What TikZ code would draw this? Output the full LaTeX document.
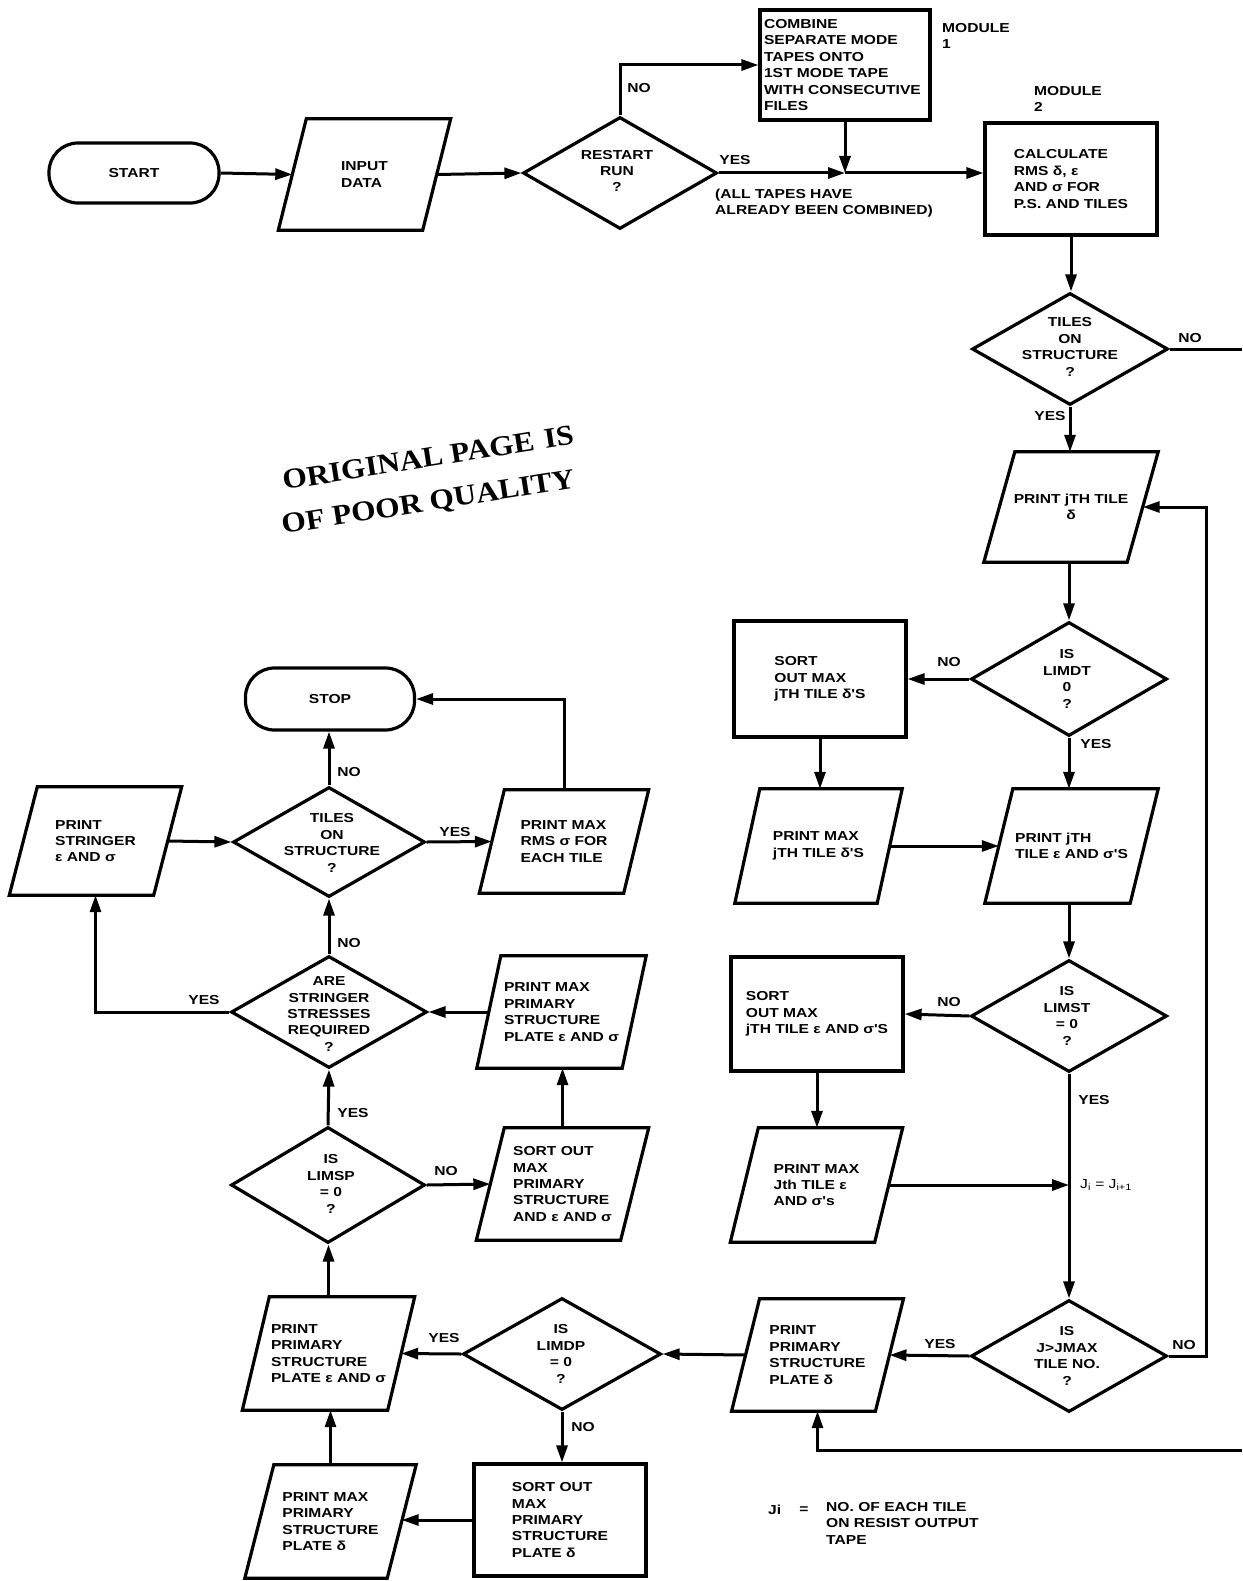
\documentclass[tikz,border=0pt]{standalone}
\usepackage{fontspec}
\usetikzlibrary{shapes.geometric,arrows.meta,calc}
\newfontfamily\labfam[FakeStretch=1.2]{Liberation Sans}
\newfontfamily\wmfam[FakeStretch=1.1]{Liberation Serif}
\newcommand\lab{\labfam\bfseries\fontsize{13}{16.4}\selectfont}
\newcommand\wmk{\wmfam\bfseries\fontsize{28.5}{34}\selectfont}
\tikzset{
  box/.style={draw, line width=3.2pt, rectangle, inner sep=0pt, font=\lab, align=left},
  term/.style={draw, line width=3.2pt, rounded corners=29pt, inner sep=0pt, font=\lab},
  dec/.style={draw, line width=3.2pt, diamond, inner sep=0pt},
  dtext/.style={font=\lab, align=center, inner sep=0pt},
  ptext/.style={inner sep=0pt, font=\lab},
  pline/.style={line width=3.2pt, line join=miter},
  arr/.style={line width=3pt, -{Triangle[length=17pt,width=11pt]}},
  conn/.style={line width=3pt},
  lbl/.style={font=\lab, inner sep=0pt},
  stamp/.style={font=\wmk, inner sep=0pt, rotate=9, anchor=base west},
}
% optional align, name, cx, cy, mid width, height, half skew, text
\newcommand\pgram[8][left]{%
  \node[ptext, align=#1, minimum width=#5pt, minimum height=#6pt] (#2) at (#3,#4) {#8};
  \draw[pline] ([xshift=#7pt]#2.north west) -- ([xshift=#7pt]#2.north east)
     -- ([xshift=-#7pt]#2.south east) -- ([xshift=-#7pt]#2.south west) -- cycle;}
\begin{document}
\begin{tikzpicture}[x=1pt,y=-1pt]
\useasboundingbox (0,0) rectangle (1242,1581);

% ---------- top row ----------
\node[term, minimum width=170pt, minimum height=60pt] (start) at (134,173) {START};
\pgram{input}{364.5}{174.5}{144}{111}{14}{INPUT\\DATA}
\node[dec, minimum width=194pt, minimum height=112pt] (restart) at (620,173) {};
\node[dtext] (restartT) at (617,171) {RESTART\\RUN\\?};
\node[box, minimum width=170pt, minimum height=110pt, text width=162pt, inner xsep=4pt] (combine) at (845,65)
  {COMBINE\\SEPARATE MODE\\TAPES ONTO\\1ST MODE TAPE\\WITH CONSECUTIVE\\FILES};
\node[box, minimum width=172pt, minimum height=112pt] (calc) at (1071,179)
  {CALCULATE\\RMS δ, ε\\AND σ FOR\\P.S. AND TILES};
\node[lbl, align=left, anchor=west] (mod1) at (942,36) {MODULE\\1};
\node[lbl, align=left, anchor=west] (mod2) at (1034,99) {MODULE\\2};

% ---------- right column ----------
\node[dec, minimum width=196pt, minimum height=112pt] (tiles1) at (1070,349) {};
\node[dtext] (tiles1T) at (1070,347) {TILES\\ON\\STRUCTURE\\?};
\pgram[center]{pjt}{1071}{507}{143}{110}{15.5}{PRINT jTH TILE\\δ}
\node[dec, minimum width=196pt, minimum height=114pt] (limdt) at (1069,679) {};
\node[dtext] (limdtT) at (1067,679) {IS\\LIMDT\\0\\?};
\node[box, minimum width=172pt, minimum height=116pt] (sort1) at (820,679) {SORT\\OUT MAX\\jTH TILE δ'S};
\pgram{pmj}{818.5}{846}{142}{114}{12.5}{PRINT MAX\\jTH TILE δ'S}
\pgram{pje}{1071.5}{846}{145}{114}{14}{PRINT jTH\\TILE ε AND σ'S}
\node[dec, minimum width=196pt, minimum height=112pt] (limst) at (1069,1016) {};
\node[dtext] (limstT) at (1067,1016) {IS\\LIMST\\= 0\\?};
\node[box, minimum width=172pt, minimum height=114pt] (sort2) at (817,1014) {SORT\\OUT MAX\\jTH TILE ε AND σ'S};
\pgram{pm2}{816.5}{1185}{144}{114}{14}{PRINT MAX\\Jth TILE ε\\AND σ's}
\node[dec, minimum width=196pt, minimum height=112pt] (jmax) at (1069,1356) {};
\node[dtext] (jmaxT) at (1067,1356) {IS\\J>JMAX\\TILE NO.\\?};
\pgram{ppd}{817.5}{1355}{143.5}{112}{14}{PRINT\\PRIMARY\\STRUCTURE\\PLATE δ}

% ---------- left column ----------
\node[term, minimum width=169pt, minimum height=62pt] (stop) at (330,699) {STOP};
\node[dec, minimum width=192pt, minimum height=110pt] (tiles2) at (329,842) {};
\node[dtext] (tiles2T) at (332,843) {TILES\\ON\\STRUCTURE\\?};
\pgram{prms}{564}{841.5}{144}{103}{12.5}{PRINT MAX\\RMS σ FOR\\EACH TILE}
\pgram{pstr}{95.5}{841}{144}{108}{14}{PRINT\\STRINGER\\ε AND σ}
\node[dec, minimum width=196pt, minimum height=112pt] (are) at (329,1012) {};
\node[dtext] (areT) at (329,1014) {ARE\\STRINGER\\STRESSES\\REQUIRED\\?};
\pgram{pmpe}{561.5}{1012}{145}{112}{12}{PRINT MAX\\PRIMARY\\STRUCTURE\\PLATE ε AND σ}
\node[dec, minimum width=194pt, minimum height=116pt] (limsp) at (328,1185) {};
\node[dtext] (limspT) at (331,1184) {IS\\LIMSP\\= 0\\?};
\pgram{psomp}{562.5}{1184}{144}{112}{14}{SORT OUT\\MAX\\PRIMARY\\STRUCTURE\\AND ε AND σ}
\pgram{ppe}{328.5}{1353.5}{145}{113}{13.5}{PRINT\\PRIMARY\\STRUCTURE\\PLATE ε AND σ}
\node[dec, minimum width=198pt, minimum height=112pt] (limdp) at (562,1354) {};
\node[dtext] (limdpT) at (561,1354) {IS\\LIMDP\\= 0\\?};
\node[box, minimum width=172pt, minimum height=112pt] (sortpd) at (560,1520) {SORT OUT\\MAX\\PRIMARY\\STRUCTURE\\PLATE δ};
\pgram{pmpd}{330.5}{1521.5}{142}{113}{14.5}{PRINT MAX\\PRIMARY\\STRUCTURE\\PLATE δ}

% ---------- connectors: top ----------
\draw[arr] (start.east) -- (input.west);
\draw[arr] (input.east) -- (restart.west);
\draw[arr] (restart.north) |- (combine.west);
\coordinate (j1) at (combine.south |- restart.east);
\draw[arr] (restart.east) -- (j1);
\draw[arr] (combine.south) -- (j1);
\draw[arr] (j1) -- (j1 -| calc.west);
\draw[arr] (calc.south) -- (calc.south |- tiles1.north);
\coordinate (redge1) at (1242,349);
\draw[conn] (tiles1.east) -- (redge1);
\draw[arr] (tiles1.south) -- (tiles1.south |- pjt.north);

% ---------- connectors: right ----------
\draw[arr] (limdt.north |- pjt.south) -- (limdt.north);
\draw[arr] (limdt.west) -- (sort1.east);
\draw[arr] (limdt.south) -- (limdt.south |- pje.north);
\draw[arr] (sort1.south) -- (sort1.south |- pmj.north);
\draw[arr] (pmj.east) -- (pje.west);
\draw[arr] (limst.north |- pje.south) -- (limst.north);
\draw[arr] (limst.west) -- (sort2.east);
\draw[arr] (sort2.south) -- (sort2.south |- pm2.north);
\draw[arr] (limst.south) -- (jmax.north);
\coordinate (jj) at (limst.south |- pm2.east);
\draw[arr] (pm2.east) -- (jj);
\draw[arr] (jmax.west) -- (ppd.east);
\draw[arr] (jmax.east) -- ++(38,0) |- (pjt.east);
\coordinate (redge2) at (1242,1450);
\draw[arr] (redge2) -| (ppd.south);
\draw[arr] (ppd.west) -- (limdp.east);

% ---------- connectors: left ----------
\draw[arr] (limdp.west) -- (ppe.east);
\draw[arr] (limdp.south) -- (limdp.south |- sortpd.north);
\draw[arr] (sortpd.west) -- (sortpd.west -| pmpd.east);
\draw[arr] (pmpd.north) -- (pmpd.north |- ppe.south);
\draw[arr] (ppe.north) -- (ppe.north |- limsp.south);
\draw[arr] (limsp.east) -- (psomp.west);
\draw[arr] (limsp.north) -- (are.south);
\draw[arr] (psomp.north) -- (psomp.north |- pmpe.south);
\draw[arr] (pmpe.west) -- (are.east);
\draw[arr] (are.north) -- (tiles2.south);
\draw[arr] (are.west) -| (pstr.south);
\draw[arr] (pstr.east) -- (tiles2.west);
\draw[arr] (tiles2.north) -- (tiles2.north |- stop.south);
\draw[arr] (tiles2.east) -- (prms.west);
\draw[arr] (prms.north) |- (stop.east);

% ---------- labels ----------
\node[lbl] (l1) at (639,88) {NO};
\node[lbl] (l2) at (735,160) {YES};
\node[lbl, align=left, anchor=west] (l3) at (715,203) {(ALL TAPES HAVE\\ALREADY BEEN COMBINED)};
\node[lbl] (l4) at (1190,338) {NO};
\node[lbl] (l5) at (1050,416) {YES};
\node[lbl] (l6) at (949,662) {NO};
\node[lbl] (l7) at (1096,744) {YES};
\node[lbl] (l8) at (949,1002) {NO};
\node[lbl] (l9) at (1094,1100) {YES};
\node[lbl] (l10) at (940,1344) {YES};
\node[lbl] (l11) at (1184,1345) {NO};
\node[lbl, font=\labfam\fontsize{13}{16}\selectfont, anchor=west] (l12) at (1080,1185) {J\textsubscript{i} = J\textsubscript{i+1}};
\node[lbl] (l13) at (349,772) {NO};
\node[lbl] (l14) at (455,832) {YES};
\node[lbl] (l15) at (349,943) {NO};
\node[lbl] (l16) at (204,1000) {YES};
\node[lbl] (l17) at (353,1113) {YES};
\node[lbl] (l18) at (446,1171) {NO};
\node[lbl] (l19) at (444,1338) {YES};
\node[lbl] (l20) at (583,1427) {NO};
\node[lbl, anchor=west] (n1) at (768,1510) {Ji};
\node[lbl] (n2) at (804,1510) {=};
\node[lbl, align=left, anchor=north west] (n3) at (826,1502) {NO. OF EACH TILE\\ON RESIST OUTPUT\\TAPE};

% ---------- stamp ----------
\node[stamp] (wa) at (284,490) {ORIGINAL};
\node[stamp] (wb) at (451.7,463.4) {PAGE};
\node[stamp] (wc) at (545.4,448.6) {IS};
\node[stamp] (wd) at (283,534) {OF};
\node[stamp] (we) at (333.7,526) {POOR};
\node[stamp] (wf) at (430.9,510.6) {QUALITY};
\end{tikzpicture}
\end{document}
